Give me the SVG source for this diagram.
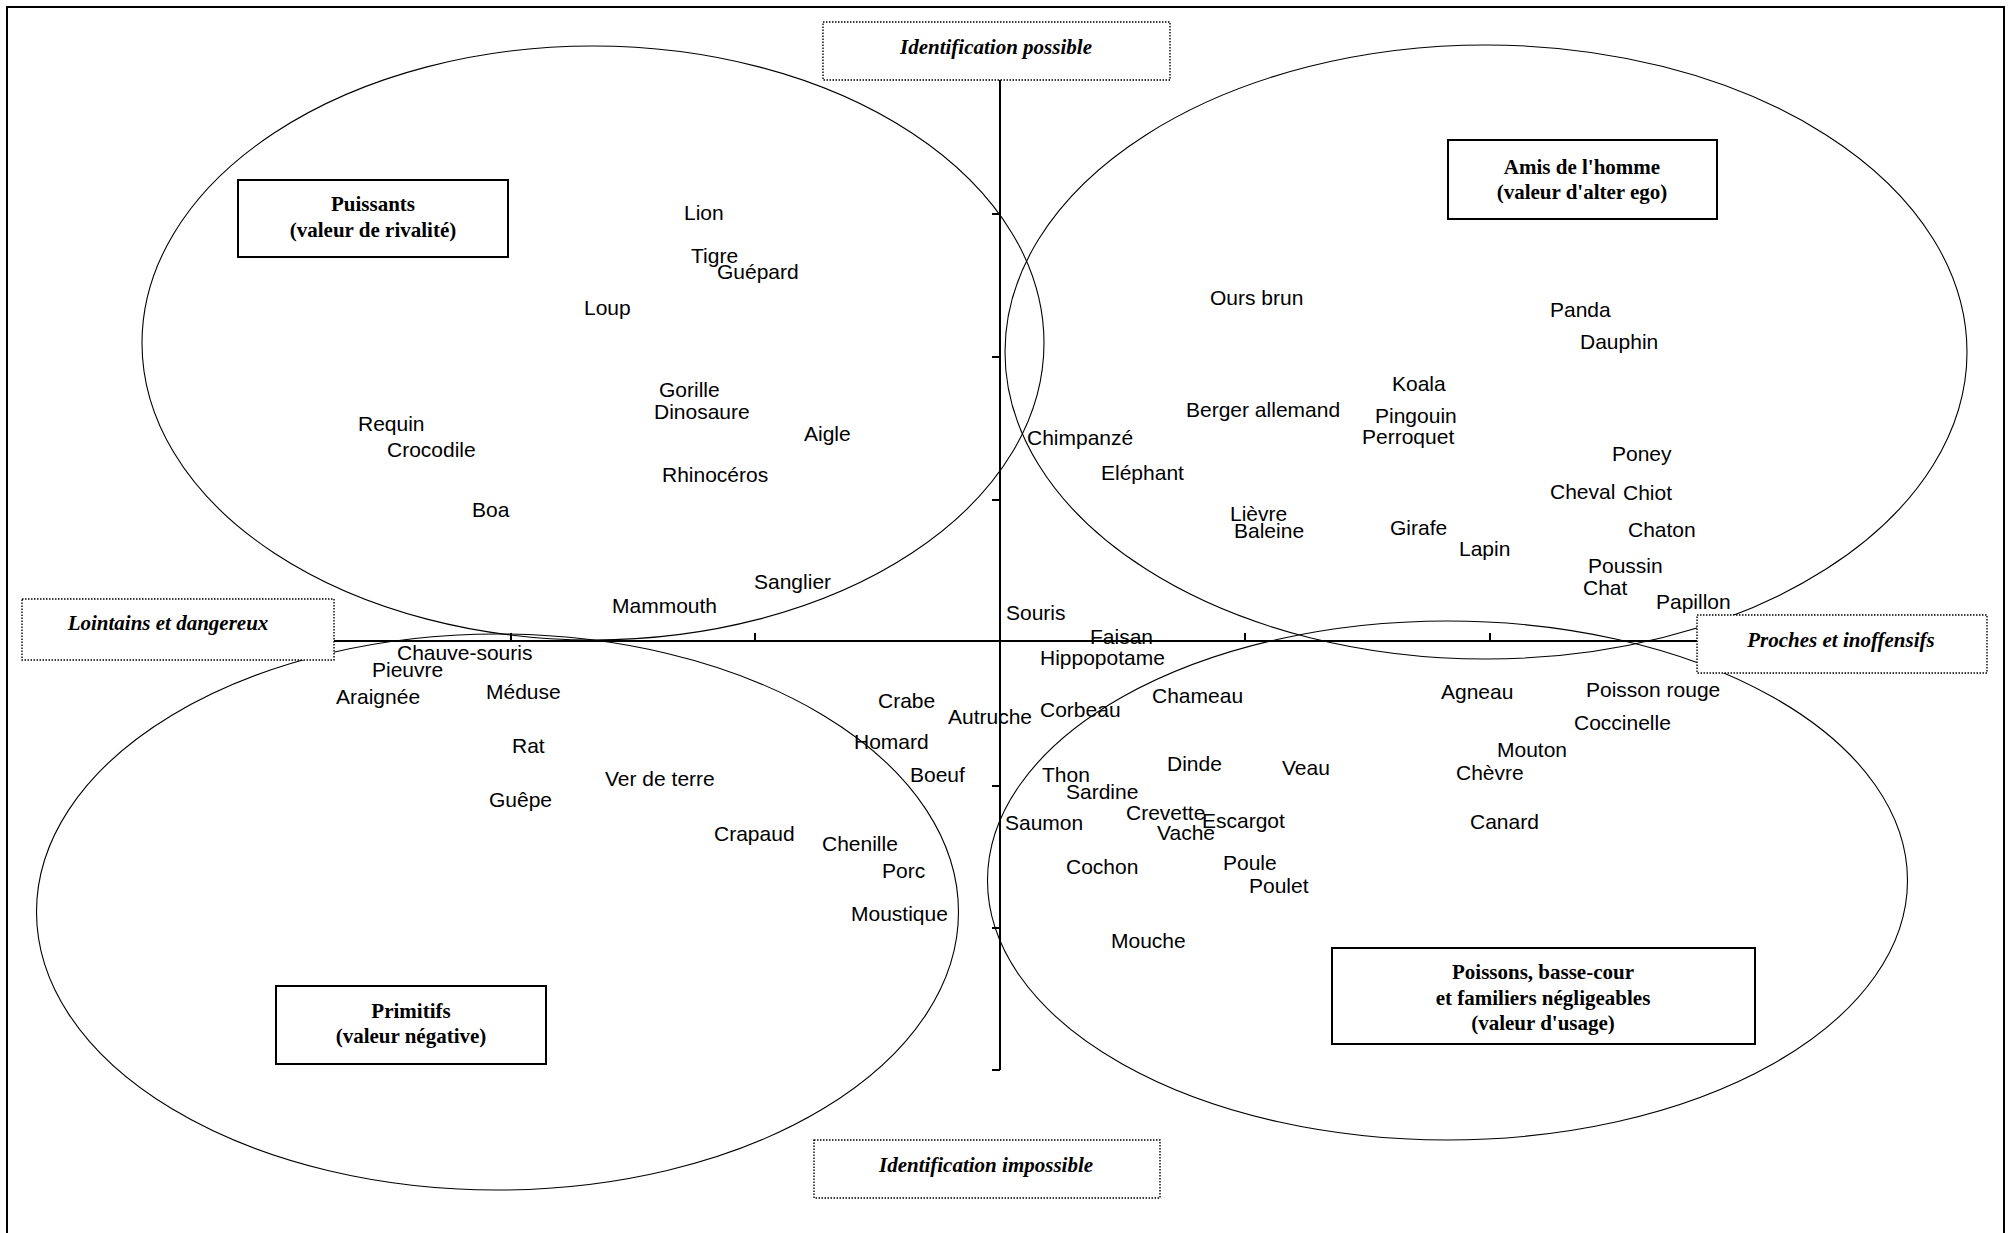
<svg xmlns="http://www.w3.org/2000/svg" width="2013" height="1233" viewBox="0 0 2013 1233">
<style>
.lbl{font-family:"Liberation Sans",Arial,sans-serif;font-size:21px;fill:#000}
.ttl{font-family:"Liberation Serif","Times New Roman",serif;font-size:21px;font-weight:bold;fill:#000;text-anchor:middle}
.dtl{font-family:"Liberation Serif","Times New Roman",serif;font-size:21px;font-weight:bold;font-style:italic;fill:#000;text-anchor:middle}
.ell{fill:none;stroke:#000;stroke-width:1.1}
.axis{stroke:#000;stroke-width:2;fill:none}
.box{fill:#fff;stroke:#000;stroke-width:2}
.dbox{fill:#fff;stroke:#000;stroke-width:1.4;stroke-dasharray:1.5 1.5}
</style>
<rect x="0" y="0" width="2013" height="1233" fill="#fff"/>
<rect x="7" y="7" width="1997" height="1240" fill="none" stroke="#000" stroke-width="2"/>

<g id="ellipses">
<ellipse id="e-puissants" class="ell" cx="593" cy="343" rx="451" ry="297"/>
<ellipse id="e-amis" class="ell" cx="1486" cy="352" rx="481" ry="307"/>
<ellipse id="e-primitifs" class="ell" cx="497.5" cy="912" rx="461" ry="278"/>
<ellipse id="e-poissons" class="ell" cx="1447.5" cy="880.5" rx="460" ry="259.5"/>
</g>

<g id="connectors">
<line class="axis" x1="1000" y1="80" x2="1000" y2="1070"/>
<line class="axis" x1="334" y1="641" x2="1698" y2="641"/>
<path class="axis" d="M992 214H1000M992 357H1000M992 500H1000M992 786H1000M992 928H1000M992 1070H1000"/>
<path class="axis" d="M511 633V641M755 633V641M1245 633V641M1490 633V641"/>
</g>

<g id="axis-labels">
<g id="id-possible"><rect class="dbox" x="823" y="22" width="347" height="58"/><text class="dtl" x="996" y="54">Identification possible</text></g>
<g id="lointains"><rect class="dbox" x="22" y="599" width="312" height="61"/><text class="dtl" x="168" y="630">Lointains et dangereux</text></g>
<g id="proches"><rect class="dbox" x="1697" y="615" width="290" height="58"/><text class="dtl" x="1841" y="647">Proches et inoffensifs</text></g>
<g id="id-impossible"><rect class="dbox" x="814" y="1140" width="346" height="58"/><text class="dtl" x="986" y="1172">Identification impossible</text></g>
</g>

<g id="categories">
<g id="puissants"><rect class="box" x="238" y="180" width="270" height="77"/><text class="ttl" x="373" y="211">Puissants</text><text class="ttl" x="373" y="237">(valeur de rivalité)</text></g>
<g id="amis"><rect class="box" x="1448" y="140" width="269" height="79"/><text class="ttl" x="1582" y="174">Amis de l'homme</text><text class="ttl" x="1582" y="199">(valeur d'alter ego)</text></g>
<g id="primitifs"><rect class="box" x="276" y="986" width="270" height="78"/><text class="ttl" x="411" y="1018">Primitifs</text><text class="ttl" x="411" y="1043">(valeur négative)</text></g>
<g id="poissons"><rect class="box" x="1332" y="948" width="423" height="96"/><text class="ttl" x="1543" y="979">Poissons, basse-cour</text><text class="ttl" x="1543" y="1005">et familiers négligeables</text><text class="ttl" x="1543" y="1030">(valeur d'usage)</text></g>
</g>

<g id="animals">
<text class="lbl" x="684" y="220">Lion</text>
<text class="lbl" x="691" y="263">Tigre</text>
<text class="lbl" x="717" y="279">Guépard</text>
<text class="lbl" x="584" y="315">Loup</text>
<text class="lbl" x="659" y="397">Gorille</text>
<text class="lbl" x="654" y="419">Dinosaure</text>
<text class="lbl" x="358" y="431">Requin</text>
<text class="lbl" x="387" y="457">Crocodile</text>
<text class="lbl" x="804" y="441">Aigle</text>
<text class="lbl" x="662" y="482">Rhinocéros</text>
<text class="lbl" x="472" y="517">Boa</text>
<text class="lbl" x="754" y="589">Sanglier</text>
<text class="lbl" x="612" y="613">Mammouth</text>

<text class="lbl" x="1210" y="305">Ours brun</text>
<text class="lbl" x="1550" y="317">Panda</text>
<text class="lbl" x="1580" y="349">Dauphin</text>
<text class="lbl" x="1392" y="391">Koala</text>
<text class="lbl" x="1186" y="417">Berger allemand</text>
<text class="lbl" x="1375" y="423">Pingouin</text>
<text class="lbl" x="1362" y="444">Perroquet</text>
<text class="lbl" x="1027" y="445">Chimpanzé</text>
<text class="lbl" x="1612" y="461">Poney</text>
<text class="lbl" x="1101" y="480">Eléphant</text>
<text class="lbl" x="1550" y="499">Cheval</text>
<text class="lbl" x="1623" y="500">Chiot</text>
<text class="lbl" x="1230" y="521">Lièvre</text>
<text class="lbl" x="1234" y="538">Baleine</text>
<text class="lbl" x="1390" y="535">Girafe</text>
<text class="lbl" x="1628" y="537">Chaton</text>
<text class="lbl" x="1459" y="556">Lapin</text>
<text class="lbl" x="1588" y="573">Poussin</text>
<text class="lbl" x="1583" y="595">Chat</text>
<text class="lbl" x="1656" y="609">Papillon</text>
<text class="lbl" x="1006" y="620">Souris</text>

<text class="lbl" x="1090" y="644">Faisan</text>
<text class="lbl" x="1040" y="665">Hippopotame</text>
<text class="lbl" x="1152" y="703">Chameau</text>
<text class="lbl" x="1441" y="699">Agneau</text>
<text class="lbl" x="1586" y="697">Poisson rouge</text>
<text class="lbl" x="1040" y="717">Corbeau</text>
<text class="lbl" x="948" y="724">Autruche</text>
<text class="lbl" x="1574" y="730">Coccinelle</text>
<text class="lbl" x="1497" y="757">Mouton</text>
<text class="lbl" x="1167" y="771">Dinde</text>
<text class="lbl" x="1282" y="775">Veau</text>
<text class="lbl" x="1456" y="780">Chèvre</text>
<text class="lbl" x="1042" y="782">Thon</text>
<text class="lbl" x="1066" y="799">Sardine</text>
<text class="lbl" x="1126" y="820">Crevette</text>
<text class="lbl" x="1202" y="828">Escargot</text>
<text class="lbl" x="1005" y="830">Saumon</text>
<text class="lbl" x="1470" y="829">Canard</text>
<text class="lbl" x="1157" y="840">Vache</text>
<text class="lbl" x="1223" y="870">Poule</text>
<text class="lbl" x="1066" y="874">Cochon</text>
<text class="lbl" x="1249" y="893">Poulet</text>
<text class="lbl" x="1111" y="948">Mouche</text>

<text class="lbl" x="397" y="660">Chauve-souris</text>
<text class="lbl" x="372" y="677">Pieuvre</text>
<text class="lbl" x="336" y="704">Araignée</text>
<text class="lbl" x="486" y="699">Méduse</text>
<text class="lbl" x="878" y="708">Crabe</text>
<text class="lbl" x="854" y="749">Homard</text>
<text class="lbl" x="512" y="753">Rat</text>
<text class="lbl" x="910" y="782">Boeuf</text>
<text class="lbl" x="605" y="786">Ver de terre</text>
<text class="lbl" x="489" y="807">Guêpe</text>
<text class="lbl" x="714" y="841">Crapaud</text>
<text class="lbl" x="822" y="851">Chenille</text>
<text class="lbl" x="882" y="878">Porc</text>
<text class="lbl" x="851" y="921">Moustique</text>
</g>
</svg>
